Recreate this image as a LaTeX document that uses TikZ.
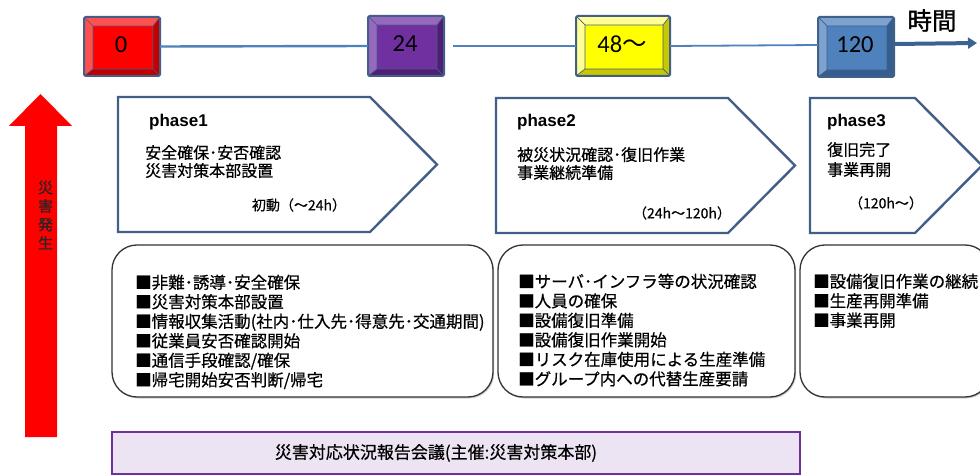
\documentclass[tikz,border=0pt]{standalone}
\usepackage{fontspec}
\setmainfont{Noto Sans CJK JP}
\newfontfamily\jp[FakeBold=0.5]{Noto Sans CJK JP}
\newfontfamily\jpb[FakeBold=1.2]{Noto Sans CJK JP}
\newfontfamily\latinbold{Liberation Sans}
\newfontfamily\numfont{Carlito}
\usetikzlibrary{arrows.meta,shadows}
\definecolor{bevelline}{RGB}{65,95,135}
\definecolor{tline}{RGB}{79,129,189}
\definecolor{tarrow}{RGB}{60,98,145}
\definecolor{phaseline}{RGB}{65,95,135}
\definecolor{lav}{RGB}{236,228,242}
\definecolor{purp}{RGB}{112,48,160}
\definecolor{redlight}{RGB}{255,80,80}
\definecolor{reddark}{RGB}{192,0,0}
\definecolor{purpface}{RGB}{112,48,160}
\definecolor{purplight}{RGB}{150,105,190}
\definecolor{purpdark}{RGB}{80,30,115}
\definecolor{yelface}{RGB}{255,255,0}
\definecolor{yellight}{RGB}{255,255,150}
\definecolor{yeldark}{RGB}{200,200,0}
\definecolor{bluface}{RGB}{79,129,189}
\definecolor{blulight}{RGB}{125,162,208}
\definecolor{bludark}{RGB}{52,94,143}
% #1 name, #2 x1, #3 y1, #4 x2, #5 y2, #6 face, #7 light, #8 dark, #9 text
\newcommand\bevelbox[9]{%
  \fill[#7] (#2,#3) rectangle (#4,#5);
  \fill[#8] (#4,#3) -- (#4,#5) -- (#2,#5) -- ({#2+9},{#5-7}) -- ({#4-7},{#5-7}) -- ({#4-7},{#3+9}) -- cycle;
  \fill[#6] ({#2+9},{#3+9}) rectangle ({#4-7},{#5-7});
  \draw[bevelline,line width=0.7] ({#2+9},{#3+9}) rectangle ({#4-7},{#5-7})
     (#2,#3) -- ({#2+9},{#3+9}) (#4,#3) -- ({#4-7},{#3+9})
     (#4,#5) -- ({#4-7},{#5-7}) (#2,#5) -- ({#2+9},{#5-7});
  \draw[bevelline,line width=2,rounded corners=1.5] (#2,#3) rectangle (#4,#5);
  \node[inner sep=0,minimum width={#4-#2},minimum height={#5-#3}] (#1) at ({(#2+#4)/2},{(#3+#5)/2}) {};
  \node[inner sep=0,font=\numfont\fontsize{24.5}{26}\selectfont] (#1l) at ({(#2+#4)/2-1},{(#3+#5)/2-2}) {#9};
}
\tikzset{
  tl/.style={tline,line width=2.4},
  tarr/.style={tarrow,line width=4,-{Triangle[length=9,width=11]}},
  phase/.style={phaseline,line width=2.4,fill=white,line join=miter},
  ptitle/.style={anchor=west,inner sep=0,font=\latinbold\bfseries\fontsize{17}{19}\selectfont},
  ptext/.style={anchor=north west,inner sep=0,align=left,font=\jp\fontsize{16}{18}\selectfont},
  prange/.style={inner sep=0,font=\jp\fontsize{14}{16}\selectfont},
  rbox/.style={draw=black!80,line width=1.3,rounded corners=25,fill=white,
     drop shadow={shadow xshift=1.2pt,shadow yshift=-1.5pt,opacity=0.35}},
  rtext/.style={anchor=north west,inner sep=0,align=left,font=\jp\fontsize{16.5}{19.5}\selectfont},
}
\begin{document}
\begin{tikzpicture}[x=1pt,y=-1pt]
\useasboundingbox (0,0) rectangle (980,476);
\clip (0,0) rectangle (980,476);
\fill[white] (0,0) rectangle (980,476);

% timeline boxes
\bevelbox{b0}{84}{17}{160}{76}{red}{redlight}{reddark}{0}
\bevelbox{b24}{368}{16}{444}{76}{purpface}{purplight}{purpdark}{24}
\bevelbox{b48}{576}{16}{670}{76}{yelface}{yellight}{yeldark}{48{\fontspec{Noto Sans CJK JP}～}}
\bevelbox{b120}{818}{17}{894}{77}{bluface}{blulight}{bludark}{120}

\coordinate (tend) at (977,43);
\draw[tl] (b0.east) -- (b24.west);
\draw[tl] ([xshift=9]b24.east) -- (b48.west);
\draw[tl,line width=1.8] (b48.east) -- ([yshift=2]b120.west);
\draw[tarr] ([yshift=3]b120.east) -- (tend);
\node[font=\jpb\fontsize{24.5}{26}\selectfont,inner sep=0] (jikan) at (932,20.5) {時間};

% red arrow
\fill[red] (25,437) -- (25,126) -- (9,126) -- (40.5,94) -- (72,126) -- (57,126) -- (57,437) -- cycle;
\node[align=center,inner sep=0,text=black!85,font=\jp\fontsize{15}{18.5}\selectfont] (hassei) at (45.5,215) {災\\害\\発\\生};

% phase shapes
\draw[phase] (118,97) -- (370,97) -- (437,164.5) -- (370,232) -- (118,232) -- cycle;
\draw[phase] (496,98) -- (728,98) -- (795,165.5) -- (728,233) -- (496,233) -- cycle;
\draw[phase] (810,98) -- (915,98) -- (982,165.5) -- (915,233) -- (810,233) -- cycle;

\node[ptitle] (p1t) at (149,122) {phase1};
\node[ptext] (p1x) at (145,145) {安全確保･安否確認\\災害対策本部設置};
\node[prange] (p1r) at (299,205) {初動（～24h）};

\node[ptitle] (p2t) at (517,122) {phase2};
\node[ptext] (p2x) at (517,147) {被災状況確認･復旧作業\\事業継続準備};
\node[prange] (p2r) at (682,213) {（24h～120h）};

\node[ptitle] (p3t) at (827,122) {phase3};
\node[ptext,font=\jp\fontsize{16}{20}\selectfont] (p3x) at (827,142) {復旧完了\\事業再開};
\node[prange] (p3r) at (886,203) {（120h～）};

% rounded boxes
\node[rbox,minimum width=381,minimum height=152] (r1) at (302.5,321) {};
\node[rbox,minimum width=297,minimum height=152] (r2) at (646.5,321) {};
\node[rbox,minimum width=190,minimum height=152] (r3) at (895,321) {};

\node[rtext] (r1t) at (135,274.5) {■非難･誘導･安全確保\\■災害対策本部設置\\■情報収集活動(社内･仕入先･得意先･交通期間)\\■従業員安否確認開始\\■通信手段確認/確保\\■帰宅開始安否判断/帰宅};
\node[rtext] (r2t) at (518,273.5) {■サーバ･インフラ等の状況確認\\■人員の確保\\■設備復旧準備\\■設備復旧作業開始\\■リスク在庫使用による生産準備\\■グループ内への代替生産要請};
\node[rtext] (r3t) at (813,273.5) {■設備復旧作業の継続\\■生産再開準備\\■事業再開};

% meeting box
\node[draw=purp,fill=lav,line width=1.2,minimum width=688,minimum height=42,inner sep=0] (meet) at (456,453) {};
\node[inner sep=0,font=\jp\fontsize{17}{19}\selectfont] (meettext) at (436,453) {災害対応状況報告会議(主催:災害対策本部)};
\end{tikzpicture}
\end{document}
